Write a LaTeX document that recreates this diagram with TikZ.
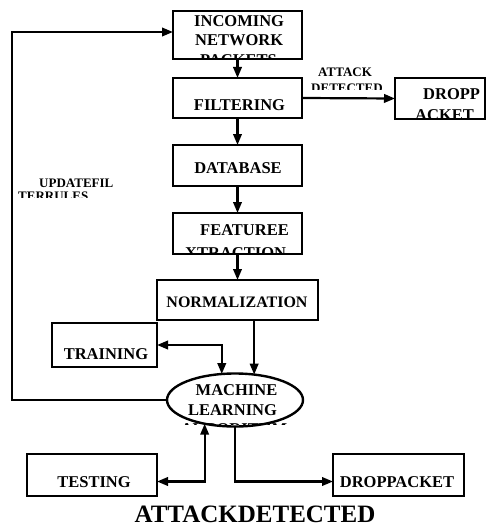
\documentclass[tikz,border=0pt]{standalone}
\usepackage{fontspec}
\setmainfont{Liberation Serif}
\usetikzlibrary{arrows.meta,shapes.geometric}
\tikzset{
  box/.style={draw, line width=2.4pt, inner sep=0pt, outer sep=0pt},
  oval/.style={draw, ellipse, line width=2.4pt, inner sep=0pt, outer sep=0pt},
  lbl/.style={font=\fontsize{16.5}{19}\selectfont\bfseries, inner sep=0pt, anchor=base},
  lblw/.style={lbl, anchor=base west},
  small/.style={font=\fontsize{13}{15}\selectfont\bfseries, inner sep=0pt, anchor=base west},
  title/.style={font=\fontsize{25}{28}\selectfont\bfseries, inner sep=0pt, anchor=base},
  tip/.tip={Triangle[length=11pt,width=8.5pt]},
  flow/.style={line width=2.2pt, -tip},
  both/.style={line width=2.2pt, tip-tip},
}
\begin{document}
\begin{tikzpicture}[x=1pt,y=-1pt]
\useasboundingbox (0,0) rectangle (486,527);

% boxes of the processing chain
\node[box, minimum width=129pt, minimum height=48pt] (inc)   at (237.5,35)   {};
\node[box, minimum width=129pt, minimum height=40pt] (filt)  at (237.5,98)   {};
\node[box, minimum width=90pt,  minimum height=41pt] (drop1) at (440,98.5)   {};
\node[box, minimum width=129pt, minimum height=41pt] (db)    at (237.5,165.5){};
\node[box, minimum width=129pt, minimum height=41pt] (feat)  at (237.5,233.5){};
\node[box, minimum width=161pt, minimum height=40pt] (norm)  at (237.5,300)  {};
\node[box, minimum width=105pt, minimum height=44pt] (train) at (104.5,345)  {};
\node[oval, minimum width=136pt, minimum height=53pt] (ml)   at (235,400)    {};
\node[box, minimum width=130pt, minimum height=42pt] (test)  at (92,475)     {};
\node[box, minimum width=131pt, minimum height=42pt] (drop2) at (398.5,475)  {};

% box labels
\node[lblw] (incA) at (194,27)   {INCOMING};
\node[lblw] (incB) at (195,45.5) {NETWORK};
\begin{scope}
  \clip (173,11) rectangle (302,58.5);
  \node[lblw] (incC) at (200,66) {PACKETS};
\end{scope}
\node[lbl] (filtT) at (239.5,110) {FILTERING};
\node[lbl] (dbT)   at (238,173)   {DATABASE};
\node[lblw] (featA) at (200,235)  {FEATUREE};
\begin{scope}
  \clip (173,213) rectangle (302,253.5);
  \node[lblw] (featB) at (185,258) {XTRACTION};
\end{scope}
\node[lbl, font=\fontsize{16}{19}\selectfont\bfseries] (normT) at (237,307) {NORMALIZATION};
\node[lbl] (trainT) at (106,359)  {TRAINING};
\node[lbl] (mlA)    at (236.5,395){MACHINE};
\node[lbl] (mlB)    at (232.5,415){LEARNING};
\begin{scope}
  \clip (160,374) rectangle (310,424.5);
  \node[lbl] (mlC) at (234,434.5) {ALGORITHM};
\end{scope}
\node[lbl] (testT)  at (94,487)   {TESTING};
\node[lbl] (dropT)  at (397,487)  {DROPPACKET};
\node[lblw] (dropA) at (423,99)   {DROPP};
\begin{scope}
  \clip (395,78) rectangle (485,118);
  \node[lblw] (dropB) at (415,120) {ACKET};
\end{scope}

% connector labels
\node[small] (atkA) at (318,77) {ATTACK};
\begin{scope}
  \clip (300,78) rectangle (390,89.5);
  \node[small] (atkB) at (311,92.6) {DETECTED};
\end{scope}
\node[small] (updA) at (39,187) {UPDATEFIL};
\begin{scope}
  \clip (14,185) rectangle (120,197);
  \node[small] (updB) at (18,200.6) {TERRULES};
\end{scope}

% caption
\node[title] (cap) at (255,522.5) {ATTACKDETECTED};

% connectors
\draw[flow] (inc.south) -- (filt.north);
\draw[flow] (filt.east) -- (drop1.west);
\draw[flow] (filt.south) -- (db.north);
\draw[flow] (db.south) -- (feat.north);
\draw[flow] (feat.south) -- (norm.north);
\draw[flow] (norm.south -| ml.53) -- (ml.53);
\draw[both] (train.east) -| (ml.117);
\coordinate (fb) at (12,32);
\draw[flow] (ml.west) -| (fb) -- (fb -| inc.west);
\coordinate (tj) at (205,481.5);
\draw[both] (ml.218) -- (ml.218 |- tj) -- (tj -| test.east);
\draw[flow] (ml.south) -- (ml.south |- tj) -- (tj -| drop2.west);
\end{tikzpicture}
\end{document}
